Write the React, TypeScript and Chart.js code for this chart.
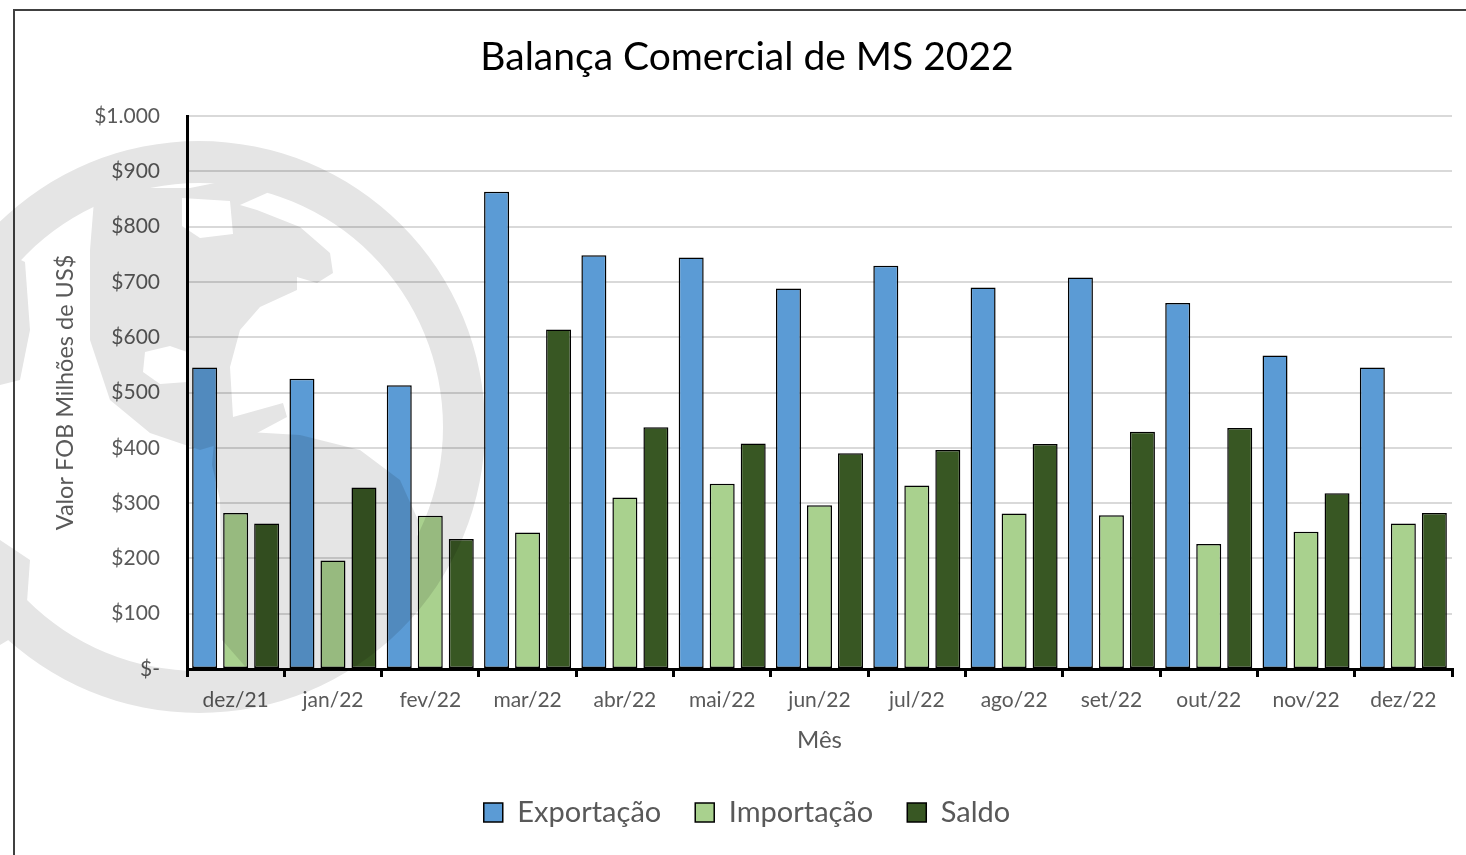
import React, { useEffect, useRef } from 'react';
import { Chart, registerables } from 'chart.js';

Chart.register(...registerables);

const categories = ['dez/21', 'jan/22', 'fev/22', 'mar/22', 'abr/22', 'mai/22', 'jun/22', 'jul/22', 'ago/22', 'set/22', 'out/22', 'nov/22', 'dez/22'];
const exportacao = [545, 525, 513, 863, 748, 744, 688, 729, 690, 708, 662, 567, 545];
const importacao = [282, 196, 277, 247, 310, 335, 296, 332, 281, 278, 226, 248, 263];
const saldo = [263, 328, 235, 614, 437, 408, 390, 396, 407, 429, 436, 318, 282];
const yTickLabels = ['$-', '$100', '$200', '$300', '$400', '$500', '$600', '$700', '$800', '$900', '$1.000'];

const FONT = 'Lato, "Open Sans", sans-serif';
const GRAY = '#595959';

// faint globe watermark (decoration only, not data)
const RING = { cx: 199, cy: 427, outer: 286, inner: 244 };
const LAND: number[][][] = [
  [[95, 188], [190, 188], [230, 180], [267, 183], [267, 193], [240, 205], [257, 210], [300, 227], [330, 253], [333, 273], [317, 283], [297, 277], [297, 290], [260, 307], [240, 330], [230, 367], [233, 417], [283, 403], [287, 417], [257, 433], [200, 450], [150, 433], [110, 400], [90, 340], [90, 250]],
  [[215, 430], [300, 435], [360, 450], [400, 480], [418, 520], [415, 570], [395, 610], [360, 645], [320, 668], [250, 672], [222, 640], [220, 500], [212, 465]],
  [[0, 250], [25, 262], [30, 330], [20, 380], [0, 385]],
  [[0, 540], [30, 560], [25, 630], [0, 645]],
];
const HOLES: number[][][] = [
  [[182, 198], [230, 201], [233, 234], [200, 238], [182, 226]],
  [[145, 352], [170, 346], [187, 352], [187, 382], [160, 384], [143, 372]],
];

export default function App() {
  const ref = useRef<HTMLCanvasElement>(null);

  useEffect(() => {
    const canvas = ref.current;
    if (!canvas) return;

    const poly = (o: CanvasRenderingContext2D, pts: number[][]) => {
      o.beginPath();
      pts.forEach(([x, y], i) => (i ? o.lineTo(x, y) : o.moveTo(x, y)));
      o.closePath();
      o.fill();
    };

    const watermark = {
      id: 'watermark',
      afterDatasetsDraw(chart: any) {
        const off = document.createElement('canvas');
        off.width = chart.width;
        off.height = chart.height;
        const o = off.getContext('2d')!;
        o.fillStyle = '#000';
        LAND.forEach((p) => poly(o, p));
        o.globalCompositeOperation = 'destination-out';
        HOLES.forEach((p) => poly(o, p));
        o.globalCompositeOperation = 'source-over';
        o.beginPath();
        o.moveTo(RING.cx + RING.outer, RING.cy);
        o.arc(RING.cx, RING.cy, RING.outer, 0, Math.PI * 2);
        o.moveTo(RING.cx + RING.inner, RING.cy);
        o.arc(RING.cx, RING.cy, RING.inner, 0, Math.PI * 2);
        o.fill('evenodd');
        const c = chart.ctx;
        c.save();
        c.globalAlpha = 0.1;
        c.drawImage(off, 0, 0);
        c.restore();
      },
    };

    const barCommon = {
      borderColor: '#000000',
      borderWidth: 1.5,
      borderSkipped: false as const,
      categoryPercentage: 0.956,
      barPercentage: 0.806,
    };

    const chart = new Chart(canvas, {
      type: 'bar',
      data: {
        labels: categories,
        datasets: [
          { label: 'Exportação', data: exportacao, backgroundColor: '#5B9BD5', ...barCommon },
          { label: 'Importação', data: importacao, backgroundColor: '#A9D18E', ...barCommon },
          { label: 'Saldo', data: saldo, backgroundColor: '#385723', ...barCommon },
        ],
      },
      options: {
        responsive: false,
        animation: false,
        layout: { padding: { left: 42, right: 14, top: 0, bottom: 18 } },
        plugins: {
          title: {
            display: true,
            text: 'Balança Comercial de MS 2022',
            color: '#000000',
            font: { family: FONT, size: 39, weight: 'normal' },
            padding: { top: 34, bottom: 35.2 },
          },
          legend: {
            position: 'bottom',
            labels: {
              boxWidth: 19,
              boxHeight: 19,
              color: GRAY,
              padding: 34,
              font: { family: FONT, size: 29 },
            },
          },
          tooltip: { enabled: false },
        },
        scales: {
          x: {
            grid: {
              display: true,
              drawOnChartArea: false,
              drawTicks: true,
              tickLength: 8,
              color: '#000000',
              lineWidth: 3,
              offset: true,
            },
            border: { display: true, color: '#000000', width: 3 },
            ticks: { color: GRAY, font: { family: FONT, size: 21 }, padding: 11 },
            title: {
              display: true,
              text: 'Mês',
              color: GRAY,
              font: { family: FONT, size: 24 },
              padding: { top: 0, bottom: 9.6 },
            },
            afterFit: (s: any) => { s.height = 95; },
          },
          y: {
            min: 0,
            max: 1000,
            ticks: {
              stepSize: 100,
              color: GRAY,
              padding: 27,
              font: { family: FONT, size: 21 },
              callback: (_v: any, i: number) => yTickLabels[i],
            },
            grid: { color: '#D9D9D9', lineWidth: 2, drawTicks: false },
            border: { display: true, color: '#000000', width: 3 },
            title: {
              display: true,
              text: 'Valor FOB Milhões de US$',
              color: GRAY,
              font: { family: FONT, size: 23.5 },
              padding: { top: 9, bottom: 0 },
            },
            afterFit: (s: any) => { s.width = 145; },
          },
        },
      },
      plugins: [watermark],
    });

    return () => chart.destroy();
  }, []);

  return (
    <div style={{ position: 'absolute', left: 0, top: 0, width: 1466, height: 855, overflow: 'hidden', background: '#ffffff' }}>
      <div style={{ position: 'absolute', left: 13, top: 9, width: 1500, height: 900, border: '2px solid #404040' }} />
      <canvas ref={ref} width={1466} height={855} style={{ position: 'absolute', left: 0, top: 0, width: 1466, height: 855 }} />
    </div>
  );
}
